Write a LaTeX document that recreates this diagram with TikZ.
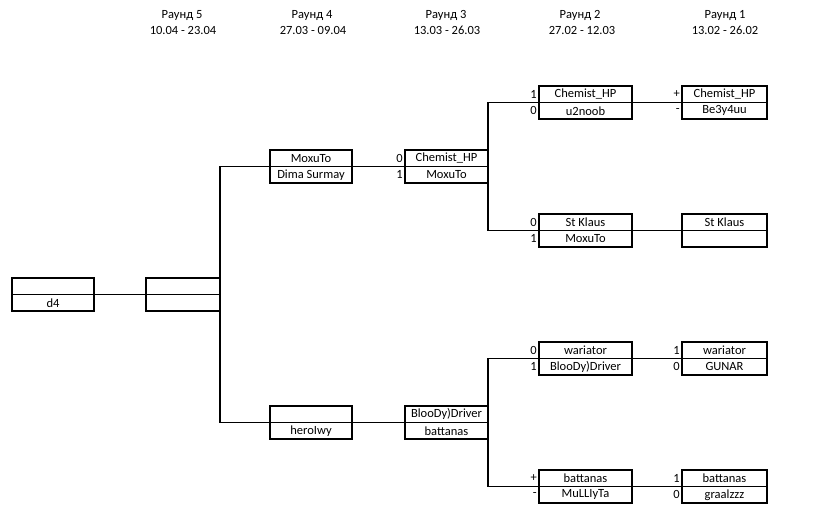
\documentclass[tikz,border=0pt]{standalone}
\usepackage{fontspec}
\setmainfont{Carlito}
\begin{document}
\begin{tikzpicture}[x=1pt,y=-1pt,
  cell/.style={draw, line width=1.1pt, minimum height=16.5pt, inner sep=0pt, outer sep=0pt, anchor=center, font=\fontsize{12.5}{14}\selectfont},
  cd/.style={cell, minimum width=82pt},
  c5/.style={cell, minimum width=74pt},
  c4/.style={cell, minimum width=82pt},
  c3/.style={cell, minimum width=83pt},
  c2/.style={cell, minimum width=93pt},
  c1/.style={cell, minimum width=85pt},
  num/.style={anchor=east, inner sep=0pt, font=\fontsize{12.5}{14}\selectfont},
  hdr/.style={inner sep=0pt, font=\fontsize{12.5}{14}\selectfont},
  link/.style={line width=1.1pt}]
\useasboundingbox (0,0) rectangle (838,509);
% headers
\node[hdr] (h5) at (182,15.5) {Раунд 5};
\node[hdr] (d5) at (183,30.5) {10.04 - 23.04};
\node[hdr] (h4) at (312,15.5) {Раунд 4};
\node[hdr] (d4h) at (313,30.5) {27.03 - 09.04};
\node[hdr] (h3) at (446,15.5) {Раунд 3};
\node[hdr] (d3) at (447,30.5) {13.03 - 26.03};
\node[hdr] (h2) at (580,15.5) {Раунд 2};
\node[hdr] (d2) at (582,30.5) {27.02 - 12.03};
\node[hdr] (h1) at (725,15.5) {Раунд 1};
\node[hdr] (d1) at (725,30.5) {13.02 - 26.02};
% final column
\node[cd] (fa) at (53,286.25) {};
\node[cd] (fb) at (53,302.75) {d4};
% round 5
\node[c5] (r5a) at (183,286.25) {};
\node[c5] (r5b) at (183,302.75) {};
% round 4
\node[c4] (r4ua) at (311,158.25) {MoxuTo};
\node[c4] (r4ub) at (311,174.75) {Dima Surmay};
\node[c4] (r4la) at (311,414.25) {};
\node[c4] (r4lb) at (311,430.75) {heroIwy};
% round 3
\node[c3] (r3ua) at (446.5,158.25) {Chemist\_HP};
\node[c3] (r3ub) at (446.5,174.75) {MoxuTo};
\node[c3] (r3la) at (446.5,414.25) {BlooDy)Driver};
\node[c3] (r3lb) at (446.5,430.75) {battanas};
\node[num] (n3a) at (r3ua.west) [xshift=-2pt] {0};
\node[num] (n3b) at (r3ub.west) [xshift=-2pt] {1};
% round 2
\node[c2] (r2aa) at (585.5,94.25) {Chemist\_HP};
\node[c2] (r2ab) at (585.5,110.75) {u2noob};
\node[c2] (r2ba) at (585.5,222.25) {St Klaus};
\node[c2] (r2bb) at (585.5,238.75) {MoxuTo};
\node[c2] (r2ca) at (585.5,350.25) {wariator};
\node[c2] (r2cb) at (585.5,366.75) {BlooDy)Driver};
\node[c2] (r2da) at (585.5,478.25) {battanas};
\node[c2] (r2db) at (585.5,494.75) {MuLLIyTa};
\node[num] (n2aa) at (r2aa.west) [xshift=-2pt] {1};
\node[num] (n2ab) at (r2ab.west) [xshift=-2pt] {0};
\node[num] (n2ba) at (r2ba.west) [xshift=-2pt] {0};
\node[num] (n2bb) at (r2bb.west) [xshift=-2pt] {1};
\node[num] (n2ca) at (r2ca.west) [xshift=-2pt] {0};
\node[num] (n2cb) at (r2cb.west) [xshift=-2pt] {1};
\node[num] (n2da) at (r2da.west) [xshift=-2pt] {+};
\node[num] (n2db) at (r2db.west) [xshift=-2pt] {-};
% round 1
\node[c1] (r1aa) at (724.5,94.25) {Chemist\_HP};
\node[c1] (r1ab) at (724.5,110.75) {Be3y4uu};
\node[c1] (r1ba) at (724.5,222.25) {St Klaus};
\node[c1] (r1bb) at (724.5,238.75) {};
\node[c1] (r1ca) at (724.5,350.25) {wariator};
\node[c1] (r1cb) at (724.5,366.75) {GUNAR};
\node[c1] (r1da) at (724.5,478.25) {battanas};
\node[c1] (r1db) at (724.5,494.75) {graalzzz};
\node[num] (n1aa) at (r1aa.west) [xshift=-2pt] {+};
\node[num] (n1ab) at (r1ab.west) [xshift=-2pt] {-};
\node[num] (n1ca) at (r1ca.west) [xshift=-2pt] {1};
\node[num] (n1cb) at (r1cb.west) [xshift=-2pt] {0};
\node[num] (n1da) at (r1da.west) [xshift=-2pt] {1};
\node[num] (n1db) at (r1db.west) [xshift=-2pt] {0};
% connectors
\draw[link] (fa.south east) -- (r5a.south west);
\draw[link] (r4ua.south west) -| (r5a.south east) |- (r4la.south west);
\draw[link] (r4ua.south east) -- (r3ua.south west);
\draw[link] (r4la.south east) -- (r3la.south west);
\draw[link] (r2aa.south west) -| (r3ua.south east) |- (r2ba.south west);
\draw[link] (r2ca.south west) -| (r3la.south east) |- (r2da.south west);
\draw[link] (r2aa.south east) -- (r1aa.south west);
\draw[link] (r2ba.south east) -- (r1ba.south west);
\draw[link] (r2ca.south east) -- (r1ca.south west);
\draw[link] (r2da.south east) -- (r1da.south west);
\end{tikzpicture}
\end{document}
